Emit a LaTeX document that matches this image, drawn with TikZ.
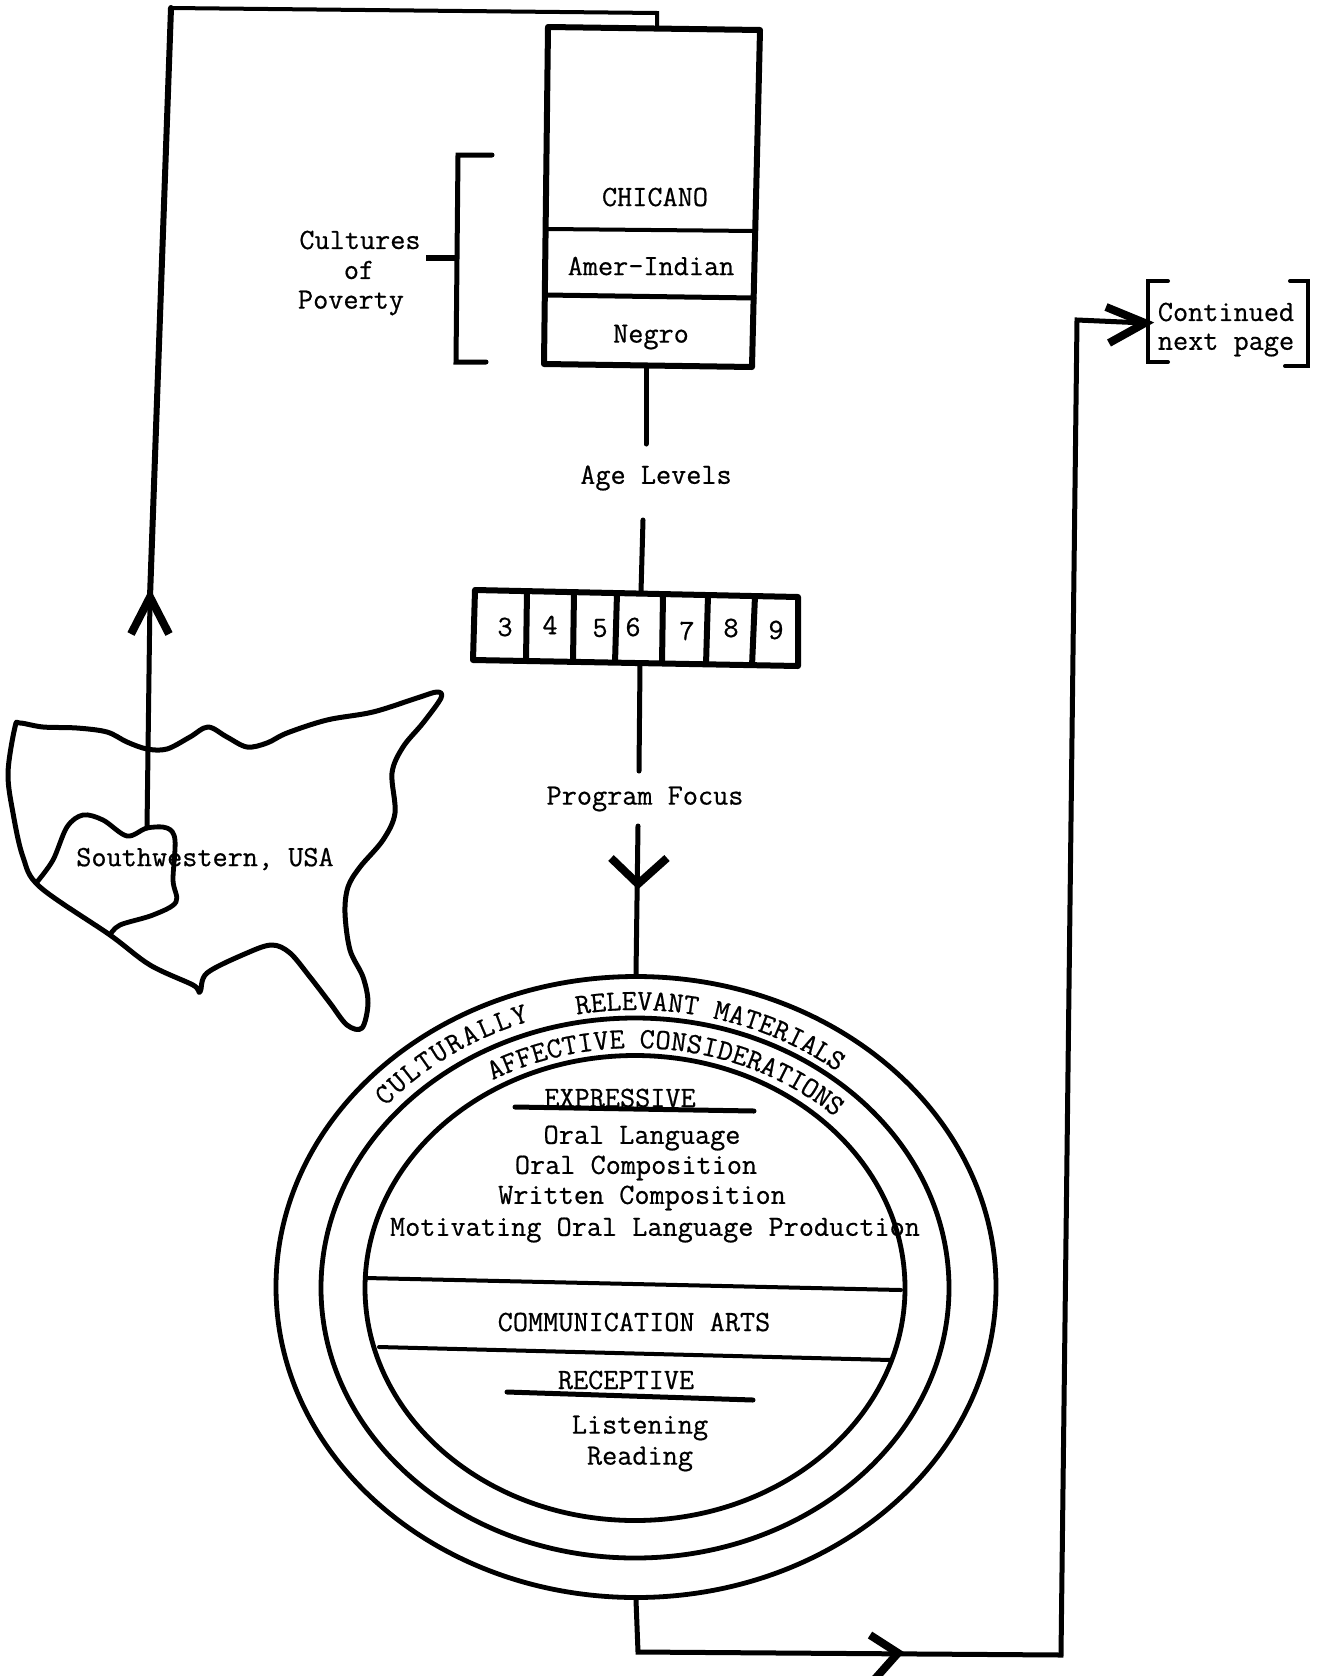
\documentclass[tikz,border=0pt]{standalone}
\usepackage{fontspec}
\setmonofont[FakeBold=0.6]{Latin Modern Mono}
\usetikzlibrary{shapes.geometric}
\newcommand{\tw}{\ttfamily\fontsize{29.4}{32}\selectfont}
\tikzset{
  heavy/.style={line width=5pt,line join=miter,line cap=round},
  thinline/.style={line width=4pt,line cap=round},
  barb/.style={line width=8pt,line join=miter,line cap=butt},
  label/.style={font=\tw,text=black,inner sep=0pt,align=center},
  ring/.style={ellipse,draw,line width=4.8pt,inner sep=0pt}
}
% #1 name prefix, #2 rx, #3 ry, #4 first angle, #5 angle step, #6 letters
\newcommand{\arcword}[6]{%
  \foreach \ch [count=\ci] in {#6} {%
    \pgfmathsetmacro{\ang}{#4+(\ci-1)*(#5)}%
    \pgfmathsetmacro{\px}{635+#2*cos(\ang)}%
    \pgfmathsetmacro{\py}{1288-#3*sin(\ang)}%
    \pgfmathsetmacro{\rt}{atan2(-#3*cos(\ang),#2*sin(\ang))}%
    \node[label,anchor=base,rotate=\rt] (#1\ci) at (\px,\py) {\ch};%
  }%
}
\begin{document}
\begin{tikzpicture}[x=1pt,y=-1pt]
\useasboundingbox (0,0) rectangle (1317,1676);
\fill[white] (0,0) rectangle (1317,1676);

% map
\draw[line width=5pt,line join=round] plot[smooth cycle,tension=0.55] coordinates {
 (20,723)(43,727)(77,728)(107,732)(127,742)(147,749)(167,749)(190,737)(208,727)(227,737)(247,747)
 (267,743)(287,733)(327,720)(373,712)(417,698)(437,692)(441,698)(423,723)(403,747)(392,773)(395,813)
 (383,840)(360,867)(348,887)(345,913)(350,950)(363,977)(368,1003)(362,1028)(347,1025)(330,1003)
 (310,977)(290,953)(272,945)(247,953)(207,973)(200,992)(193,985)(150,965)(110,935)(40,887)(23,857)
 (13,813)(8,773)(15,727)};
\draw[line width=4.8pt,line join=round] plot[smooth,tension=0.55] coordinates {
 (37,882)(53,860)(67,827)(83,815)(103,820)(127,836)(147,828)(167,828)(175,840)(173,880)(176,902)
 (153,915)(120,925)(110,935)};
\node[label] (sw) at (205,859) {Southwestern, USA};

% connector map to chicano box
\coordinate (mapTop) at (147,828);
\coordinate (upTip) at (150,597);
\coordinate (topL) at (171,8);
\coordinate (topR) at (657,13);
\coordinate (boxTop) at (657,27);
\draw[heavy] (mapTop) -- (upTip);
\draw[line width=6pt,line cap=round] (upTip) -- (topL);
\draw[thinline,line join=miter] (topL) -- (topR) -- (boxTop);
\coordinate (upA) at (131,634);
\coordinate (upB) at (169,634);
\draw[barb] (upA) -- (upTip) -- (upB);

% culture box
\coordinate (bTL) at (548,27);
\coordinate (bTR) at (760,30);
\coordinate (bBR) at (752,367);
\coordinate (bBL) at (544,364);
\draw[line width=6pt,line join=round] (bTL) -- (bTR) -- (bBR) -- (bBL) -- cycle;
\coordinate (d1L) at (548,229); \coordinate (d1R) at (755,231);
\coordinate (d2L) at (546,295); \coordinate (d2R) at (754,298);
\draw[thinline] (d1L) -- (d1R);
\draw[heavy] (d2L) -- (d2R);
\node[label] (chicano) at (655,197) {CHICANO};
\node[label] (amer) at (651,266) {Amer-Indian};
\node[label] (negro) at (651,337) {Negro};

% bracket and label
\coordinate (brA) at (492,155); \coordinate (brB) at (458,155);
\coordinate (brC) at (456,362); \coordinate (brD) at (486,362);
\coordinate (brM) at (457,258); \coordinate (brT) at (426,258);
\draw[heavy] (brA) -- (brB) -- (brC) -- (brD);
\draw[line width=5.5pt] (brM) -- (brT);
\node[label] (cult) at (360,240) {Cultures};
\node[label] (of) at (359,270) {of};
\node[label] (pov) at (351,303) {Poverty};

% age levels
\coordinate (boxOut) at (646,367);
\coordinate (ageIn) at (646,444);
\draw[heavy] (boxOut) -- (ageIn);
\node[label] (age) at (656,478) {Age Levels};
\coordinate (ageOut) at (643,520);
\coordinate (strip) at (641,592);
\draw[heavy] (ageOut) -- (strip);

\coordinate (sTL) at (475,590); \coordinate (sTR) at (798,597);
\coordinate (sBR) at (798,666); \coordinate (sBL) at (473,660);
\draw[line width=6pt,line join=round] (sTL) -- (sTR) -- (sBR) -- (sBL) -- cycle;
\coordinate (v1t) at (527,591); \coordinate (v1b) at (526,661);
\coordinate (v2t) at (574,592); \coordinate (v2b) at (573,662);
\coordinate (v3t) at (617,593); \coordinate (v3b) at (615,663);
\coordinate (v4t) at (663,594); \coordinate (v4b) at (662,664);
\coordinate (v5t) at (708,595); \coordinate (v5b) at (706,665);
\coordinate (v6t) at (755,596); \coordinate (v6b) at (752,666);
\foreach \n in {1,...,6} {\draw[line width=6pt] (v\n t) -- (v\n b);}
\node[label] (a3) at (505,627) {3};
\node[label] (a4) at (550,625) {4};
\node[label] (a5) at (600,628) {5};
\node[label] (a6) at (633,627) {6};
\node[label] (a7) at (687,631) {7};
\node[label] (a8) at (731,628) {8};
\node[label] (a9) at (776,630) {9};

% program focus
\coordinate (stripOut) at (640,664);
\coordinate (pfIn) at (639,771);
\draw[heavy] (stripOut) -- (pfIn);
\node[label] (pf) at (645,799) {Program Focus};
\coordinate (pfOut) at (638,826);
\coordinate (dnTip) at (638,884);
\coordinate (dnA) at (611,858);
\coordinate (dnB) at (667,858);

% rings
\node[ring,minimum width=720pt,minimum height=621pt] (outer) at (636,1287) {};
\node[ring,minimum width=628pt,minimum height=540pt] (middle) at (635,1288) {};
\node[ring,minimum width=540pt,minimum height=465pt] (inner) at (635,1288) {};
\draw[heavy] (pfOut) -- (outer.north);
\draw[barb] (dnA) -- (dnTip) -- (dnB);

\arcword{wa}{326}{282}{138.5}{-3.14}{C,U,L,T,U,R,A,L,L,Y}
\arcword{wb}{322}{278}{99.1}{-2.7}{R,E,L,E,V,A,N,T}
\arcword{wc}{322}{278}{74.7}{-2.78}{M,A,T,E,R,I,A,L,S}
\arcword{wd}{285}{240}{118.5}{-3.12}{A,F,F,E,C,T,I,V,E}
\arcword{we}{285}{240}{87.6}{-3.12}{C,O,N,S,I,D,E,R,A,T,I,O,N,S}

% inner text
\node[label] (expr) at (620,1098) {EXPRESSIVE};
\coordinate (eu1) at (515,1107); \coordinate (eu2) at (754,1111);
\draw[heavy] (eu1) -- (eu2);
\node[label] (t1) at (642,1138) {Oral Language};
\node[label] (t2) at (636,1168) {Oral Composition};
\node[label] (t3) at (642,1198) {Written Composition};
\node[label] (t4) at (655,1230) {Motivating Oral Language Production};
\coordinate (l1a) at (366,1278); \coordinate (l1b) at (901,1290);
\coordinate (l2a) at (379,1347); \coordinate (l2b) at (891,1360);
\draw[thinline] (l1a) -- (l1b);
\draw[thinline] (l2a) -- (l2b);
\node[label] (comm) at (634,1322) {COMMUNICATION ARTS};
\node[label] (rec) at (626,1380) {RECEPTIVE};
\coordinate (ru1) at (507,1392); \coordinate (ru2) at (753,1400);
\draw[heavy] (ru1) -- (ru2);
\node[label] (listen) at (640,1428) {Listening};
\node[label] (read) at (640,1459) {Reading};

% return connector
\coordinate (ba) at (638,1652);
\coordinate (bTip) at (898,1653);
\coordinate (bc) at (1061,1655);
\coordinate (cc) at (1077,320);
\coordinate (cTip) at (1145,323);
\draw[heavy,line join=miter] (outer.south) -- (ba) -- (bc) -- (cc) -- (cTip);
\coordinate (bA) at (870,1635); \coordinate (bB) at (874,1680);
\draw[barb] (bA) -- (bTip) -- (bB);
\coordinate (cA) at (1106,307); \coordinate (cB) at (1109,343);
\draw[barb] (cA) -- (cTip) -- (cB);

% continued bracket
\coordinate (c1) at (1168,281); \coordinate (c2) at (1148,281);
\coordinate (c3) at (1148,362); \coordinate (c4) at (1168,362);
\coordinate (c5) at (1290,281); \coordinate (c6) at (1308,281);
\coordinate (c7) at (1308,366); \coordinate (c8) at (1285,366);
\draw[thinline,line join=miter] (c1) -- (c2) -- (c3) -- (c4);
\draw[thinline,line join=miter] (c5) -- (c6) -- (c7) -- (c8);
\node[label] (cont) at (1226,312) {Continued};
\node[label] (next) at (1226,345) {next page};
\end{tikzpicture}
\end{document}
